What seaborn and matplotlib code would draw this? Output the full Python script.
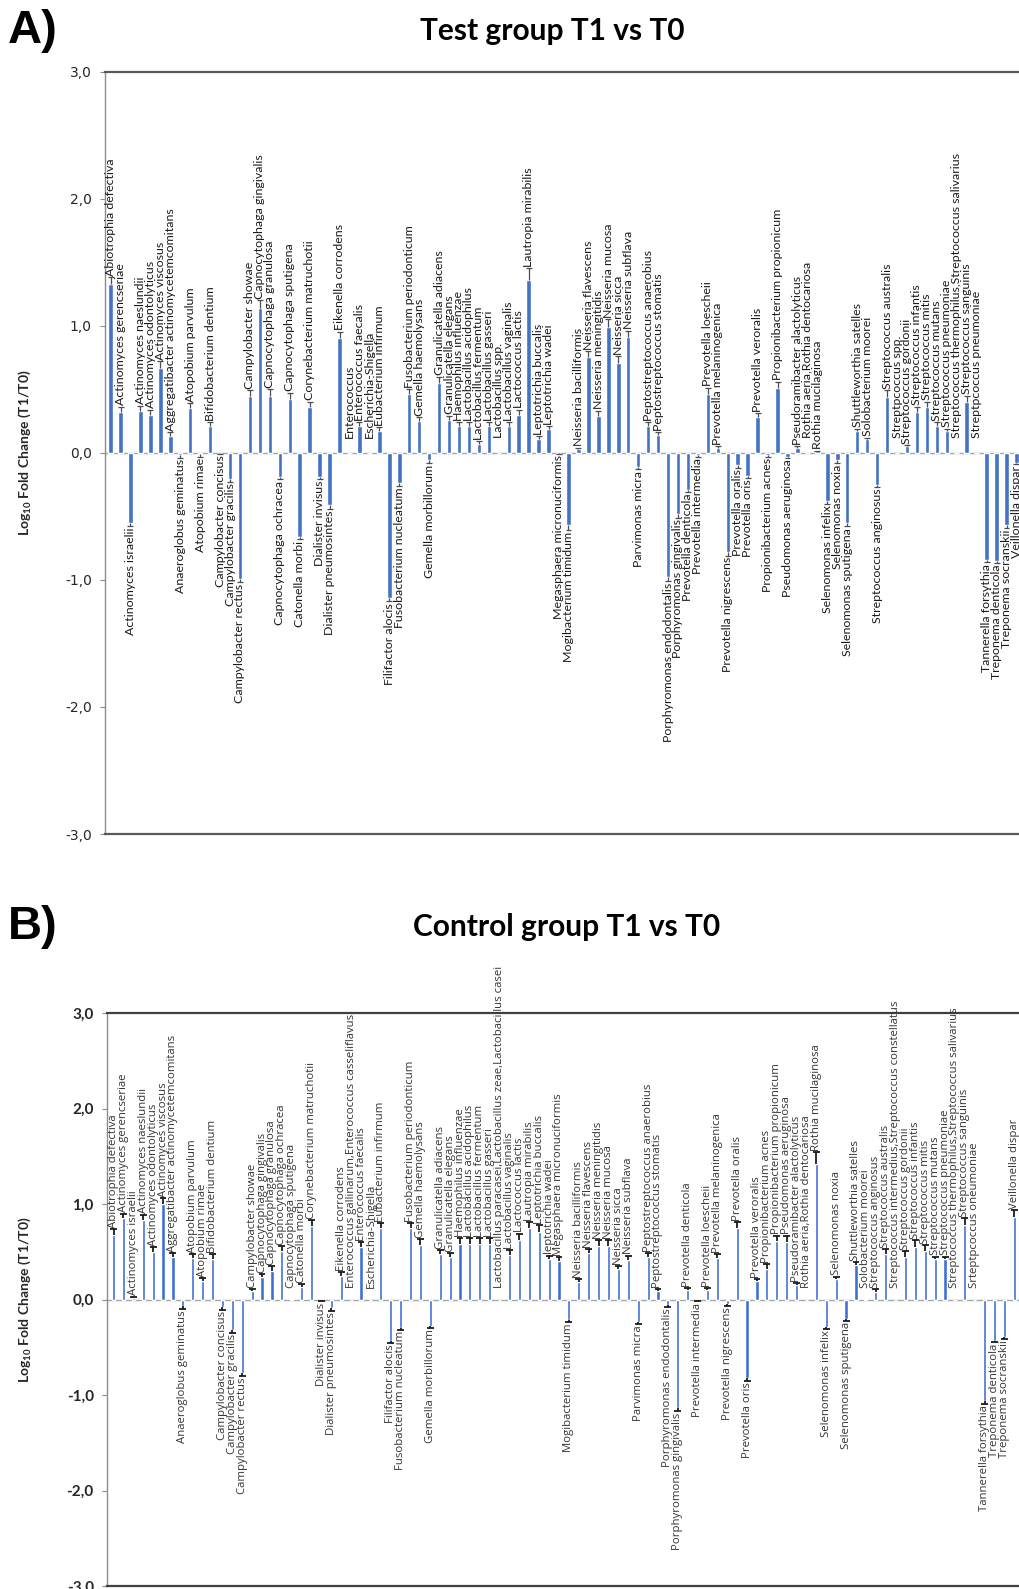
import numpy as np
import pandas as pd
import matplotlib
matplotlib.use("Agg")
import matplotlib.pyplot as plt
from matplotlib import font_manager
import seaborn as sns

# ---------------------------------------------------------------- data
names_a = [
    "Abiotrophia defectiva", "Actinomyces gerencseriae", "Actinomyces israelii",
    "Actinomyces naeslundii", "Actinomyces odontolyticus", "Actinomyces viscosus",
    "Aggregatibacter actinomycetemcomitans", "Anaeroglobus geminatus",
    "Atopobium parvulum", "Atopobium rimae", "Bifidobacterium dentium",
    "Campylobacter concisus", "Campylobacter gracilis", "Campylobacter rectus",
    "Campylobacter showae", "Capnocytophaga gingivalis", "Capnocytophaga granulosa",
    "Capnocytophaga ochracea", "Capnocytophaga sputigena", "Catonella morbi",
    "Corynebacterium matruchotii", "Dialister invisus", "Dialister pneumosintes",
    "Eikenella corrodens", "Enterococcus", "Enterococcus faecalis",
    "Escherichia-Shigella", "Eubacterium infirmum", "Filifactor alocis",
    "Fusobacterium nucleatum", "Fusobacterium periodonticum", "Gemella haemolysans",
    "Gemella morbillorum", "Granulicatella adiacens", "Granulicatella elegans",
    "Haemophilus influenzae", "Lactobacillus acidophilus", "Lactobacillus fermentum",
    "Lactobacillus gasseri", "Lactobacillus spp.", "Lactobacillus vaginalis",
    "Lactococcus lactis", "Lautropia mirabilis", "Leptotrichia buccalis",
    "Leptotrichia wadei", "Megasphaera micronuciformis", "Mogibacterium timidum",
    "Neisseria bacilliformis", "Neisseria flavescens", "Neisseria meningitidis",
    "Neisseria mucosa", "Neisseria sicca", "Neisseria subflava", "Parvimonas micra",
    "Peptostreptococcus anaerobius", "Peptostreptococcus stomatis",
    "Porphyromonas endodontalis", "Porphyromonas gingivalis", "Prevotella denticola",
    "Prevotella intermedia", "Prevotella loescheii", "Prevotella melaninogenica",
    "Prevotella nigrescens", "Prevotella oralis", "Prevotella oris",
    "Prevotella veroralis", "Propionibacterium acnes", "Propionibacterium propionicum",
    "Pseudomonas aeruginosa", "Pseudoramibacter alactolyticus",
    "Rothia aeria,Rothia dentocariosa", "Rothia mucilaginosa", "Selenomonas infelix",
    "Selenomonas noxia", "Selenomonas sputigena", "Shuttleworthia satelles",
    "Solobacterium moorei", "Streptococcus anginosus", "Streptococcus australis",
    "Streptpcoccus spp.", "Streptococcus gordonii", "Streptococcus infantis",
    "Streptococcus mitis", "Streptococcus mutans", "Streptococcus pneumoniae",
    "Streptococcus thermophilus,Streptococcus salivarius", "Streptococcus sanguinis",
    "Streptpcoccus pneumoniae", "Tannerella forsythia", "Treponema denticola",
    "Treponema socranskii", "Veillonella dispar",
]
log_fc_a = [
    1.33, 0.32, -0.55, 0.33, 0.30, 0.67, 0.13, -0.02, 0.35, -0.01, 0.21,
    -0.003, -0.21, -0.99, 0.45, 1.14, 0.45, -0.19, 0.42, -0.66, 0.36, -0.19, -0.41,
    0.90, 0.0, 0.21, 0.0, 0.17, -1.14, -0.24, 0.46, 0.25, -0.06, 0.55, 0.26,
    0.21, 0.21, 0.07, 0.21, 0.0, 0.21, 0.30, 1.36, 0.11, 0.19, -0.003, -0.57,
    0.03, 0.75, 0.29, 0.99, 0.71, 0.91, -0.11, 0.21, 0.14, -0.98, -0.48, -0.29,
    -0.02, 0.46, 0.04, -0.78, -0.10, -0.18, 0.28, -0.02, 0.51, -0.03, 0.04,
    0.0, 0.01, -0.38, -0.06, -0.55, 0.17, 0.11, -0.25, 0.44, 0.0, 0.05, 0.32,
    0.36, 0.21, 0.17, 0.0, 0.40, 0.0, -0.84, -0.85, -0.57, -0.08,
]
err_a = [
    0.05, 0.04, 0.03, 0.04, 0.04, 0.05, 0.03, 0.02, 0.04, 0.02, 0.03,
    0.003, 0.02, 0.03, 0.04, 0.06, 0.05, 0.02, 0.05, 0.02, 0.04, 0.02, 0.03,
    0.05, 0.0, 0.03, 0.0, 0.03, 0.03, 0.02, 0.04, 0.03, 0.02, 0.05, 0.03,
    0.03, 0.03, 0.02, 0.03, 0.0, 0.03, 0.04, 0.09, 0.02, 0.02, 0.003, 0.04,
    0.01, 0.05, 0.04, 0.06, 0.05, 0.05, 0.02, 0.03, 0.02, 0.03, 0.03, 0.02,
    0.01, 0.05, 0.01, 0.03, 0.02, 0.02, 0.03, 0.01, 0.05, 0.01, 0.01,
    0.0, 0.005, 0.02, 0.02, 0.03, 0.02, 0.01, 0.02, 0.05, 0.0, 0.01, 0.04,
    0.04, 0.03, 0.02, 0.0, 0.05, 0.0, 0.02, 0.02, 0.02, 0.01,
]

names_b = [
    "Abiotrophia defectiva", "Actinomyces gerencseriae", "Actinomyces israelii",
    "Actinomyces naeslundii", "Actinomyces odontolyticus", "Actinomyces viscosus",
    "Aggregatibacter actinomycetemcomitans", "Anaeroglobus geminatus",
    "Atopobium parvulum", "Atopobium rimae", "Bifidobacterium dentium",
    "Campylobacter concisus", "Campylobacter gracilis", "Campylobacter rectus",
    "Campylobacter showae", "Capnocytophaga gingivalis", "Capnocytophaga granulosa",
    "Capnocytophaga ochracea", "Capnocytophaga sputigena", "Catonella morbi",
    "Corynebacterium matruchotii", "Dialister invisus", "Dialister pneumosintes",
    "Eikenella corrodens", "Enterococcus gallinarum,Enterococcus casseliflavus",
    "Enterococcus faecalis", "Escherichia-Shigella", "Eubacterium infirmum",
    "Filifactor alocis", "Fusobacterium nucleatum", "Fusobacterium periodonticum",
    "Gemella haemolysans", "Gemella morbillorum", "Granulicatella adiacens",
    "Granulicatella elegans", "Haemophilus influenzae", "Lactobacillus acidophilus",
    "Lactobacillus fermentum", "Lactobacillus gasseri",
    "Lactobacillus paracasei,Lactobacillus zeae,Lactobacillus casei",
    "Lactobacillus vaginalis", "Lactococcus lactis", "Lautropia mirabilis",
    "Leptotrichia buccalis", "leptotrichia wadei", "Megasphaera micronuciformis",
    "Mogibacterium timidum", "Neisseria bacilliformis", "Neisseria flavescens",
    "Neisseria meningitidis", "Neisseria mucosa", "Neisseria sicca",
    "Neisseria subflava", "Parvimonas micra", "Peptostreptococcus anaerobius",
    "Peptostreptococcus stomatis", "Porphyromonas endodontalis",
    "Porphyromonas gingivalis", "Prevotella denticola", "Prevotella intermedia",
    "Prevotella loescheii", "Prevotella melaninogenica", "Prevotella nigrescens",
    "Prevotella oralis", "Prevotella oris", "Prevotella veroralis",
    "Propionibacterium acnes", "Propionibacterium propionicum",
    "Pseudomonas aeruginosa", "Pseudoramibacter alactolyticus",
    "Rothia aeria,Rothia dentocariosa", "Rothia mucilaginosa", "Selenomonas infelix",
    "Selenomonas noxia", "Selenomonas sputigena", "Shuttleworthia satelles",
    "Solobacterium moorei", "Streptococcus anginosus", "Streptococcus australis",
    "Streptococcus intermedius,Streptococcus constellatus", "Streptococcus gordonii",
    "Streptococcus infantis", "Streptococcus mitis", "Streptococcus mutans",
    "Streptococcus pneumoniae", "Streptococcus thermophilus,Streptococcus salivarius",
    "Streptococcus sanguinis", "Srteptpcoccus oneumoniae", "Tannerella forsythia",
    "Treponema denticola", "Treponema socranskii", "Veillonella dispar",
]
log_fc_b = [
    0.68, 0.85, 0.02, 0.83, 0.50, 1.00, 0.44, -0.07, 0.43, 0.19, 0.42,
    -0.08, -0.32, -0.77, 0.09, 0.24, 0.30, 0.51, 0.003, 0.13, 0.77, -0.01, -0.09,
    0.25, 0.0, 0.55, 0.0, 0.75, -0.43, -0.30, 0.75, 0.57, -0.28, 0.48, 0.45,
    0.58, 0.58, 0.58, 0.58, 0.0, 0.47, 0.62, 0.75, 0.71, 0.42, 0.40, -0.21,
    0.18, 0.49, 0.56, 0.56, 0.32, 0.41, -0.24, 0.44, 0.09, -0.06, -1.14, 0.10,
    -0.01, 0.10, 0.43, -0.05, 0.75, -0.82, 0.19, 0.32, 0.61, 0.60, 0.15,
    0.0, 1.42, -0.29, 0.21, -0.20, 0.36, 0.003, 0.08, 0.48, 0.0, 0.45, 0.55,
    0.51, 0.42, 0.42, 0.0, 0.78, 0.0, -1.06, -0.43, -0.39, 0.86,
]
err_b = [
    0.06, 0.05, 0.01, 0.06, 0.05, 0.06, 0.05, 0.03, 0.05, 0.03, 0.06,
    0.03, 0.03, 0.03, 0.02, 0.03, 0.05, 0.05, 0.0, 0.03, 0.06, 0.01, 0.03,
    0.04, 0.0, 0.05, 0.0, 0.05, 0.03, 0.02, 0.05, 0.06, 0.02, 0.04, 0.04,
    0.06, 0.06, 0.06, 0.06, 0.0, 0.05, 0.07, 0.06, 0.07, 0.04, 0.04, 0.03,
    0.03, 0.04, 0.06, 0.06, 0.03, 0.05, 0.02, 0.05, 0.02, 0.02, 0.03, 0.02,
    0.01, 0.02, 0.05, 0.02, 0.06, 0.03, 0.02, 0.05, 0.06, 0.07, 0.02,
    0.0, 0.12, 0.02, 0.03, 0.02, 0.03, 0.0, 0.03, 0.05, 0.0, 0.06, 0.07,
    0.06, 0.03, 0.03, 0.0, 0.07, 0.0, 0.03, 0.02, 0.02, 0.08,
]

y_ticks = [3.0, 2.0, 1.0, 0.0, -1.0, -2.0, -3.0]
y_tick_labels = ["3,0", "2,0", "1,0", "0,0", "-1,0", "-2,0", "-3,0"]
title_a = "Test group T1 vs T0"
title_b = "Control group T1 vs T0"
y_label = r"Log$_{\mathbf{10}}$ Fold Change (T1/T0)"

# ---------------------------------------------------------------- fonts
sns.set_theme(style="white")
installed = {f.name for f in font_manager.fontManager.ttflist}


def pick(*families):
    for fam in families:
        if fam in installed:
            return fam
    return "DejaVu Sans"


calibri_like = pick("Lato", "Carlito", "Liberation Sans")
label_b_font = pick("Open Sans", "Noto Sans", "DejaVu Sans")
arial_like = pick("Liberation Sans", "DejaVu Sans")
plt.rcParams["font.family"] = [calibri_like, "DejaVu Sans"]
plt.rcParams["mathtext.fontset"] = "custom"
plt.rcParams["mathtext.rm"] = calibri_like
plt.rcParams["mathtext.bf"] = f"{calibri_like}:bold"

W, H = 1019, 1589
fig = plt.figure(figsize=(W / 100, H / 100), dpi=100)
fig.patch.set_facecolor("white")


def axes_px(left, top, right, bottom):
    return fig.add_axes([left / W, 1 - bottom / H, (right - left) / W, (bottom - top) / H])


def draw_panel(ax, names, vals, errs, *, bar_color, bar_width, err_color, err_lw,
               cap_half, label_font, label_size, label_color, xlim,
               tick_font, tick_size, tick_weight, frame_color, left_color):
    df = pd.DataFrame({"taxon": names, "lfc": vals})
    sns.barplot(data=df, x="taxon", y="lfc", order=names, color=bar_color,
                saturation=1, width=bar_width, errorbar=None, ax=ax, zorder=3)

    x = np.arange(len(names))
    v = np.asarray(vals, dtype=float)
    e = np.asarray(errs, dtype=float)
    sign = np.where(v < 0, -1.0, 1.0)
    tips = v + sign * e

    # one-sided error bars with a cap at the outer end only
    has_err = e > 0
    ax.vlines(x[has_err], v[has_err], tips[has_err], color=err_color,
              lw=err_lw, zorder=4)
    ax.hlines(tips[has_err], x[has_err] - cap_half, x[has_err] + cap_half,
              color=err_color, lw=err_lw, zorder=4)

    # rotated data labels just beyond each bar end
    for xi, name, vi, ei, ti in zip(x, names, v, e, tips):
        if ei == 0:
            ax.text(xi, 0.12, name, rotation=90, ha="center", va="bottom",
                    fontsize=label_size, family=label_font, color=label_color)
        elif vi >= 0:
            ax.text(xi, ti + 0.012, name, rotation=90, ha="center", va="bottom",
                    fontsize=label_size, family=label_font, color=label_color)
        else:
            ax.text(xi, ti - 0.012, name, rotation=90, ha="center", va="top",
                    fontsize=label_size, family=label_font, color=label_color)

    ax.axhline(0, color="#a6a6a6", lw=1.0, zorder=2)
    ax.set_xlim(*xlim)
    ax.set_ylim(-3, 3)
    ax.set_xticks([])
    ax.set_yticks(y_ticks)
    ax.set_yticklabels(y_tick_labels, family=tick_font, fontsize=tick_size,
                       fontweight=tick_weight, color="#262626")
    ax.tick_params(axis="y", left=True, length=3.5, width=0.8, color="#8c8c8c", pad=6)
    ax.set_xlabel("")
    ax.set_ylabel("")
    ax.grid(False)
    ax.set_facecolor("white")
    ax.spines["right"].set_visible(False)
    for side in ("top", "bottom"):
        ax.spines[side].set_color(frame_color)
        ax.spines[side].set_linewidth(1.6)
    ax.spines["left"].set_color(left_color)
    ax.spines["left"].set_linewidth(1.0)


# ---------------------------------------------------------------- panel A
ax_a = axes_px(105, 71.5, 1030, 834)
draw_panel(ax_a, names_a, log_fc_a, err_a,
           bar_color="#4472C4", bar_width=0.45, err_color="#4d4d4d", err_lw=0.9,
           cap_half=0.3, label_font=calibri_like, label_size=8.9, label_color="#1a1a1a",
           xlim=(-0.56, 92.36), tick_font="DejaVu Sans", tick_size=10,
           tick_weight="normal", frame_color="#595959", left_color="#8c8c8c")

# ---------------------------------------------------------------- panel B
ax_b = axes_px(107, 1013, 1030, 1586)
draw_panel(ax_b, names_b, log_fc_b, err_b,
           bar_color="#3D6FD6", bar_width=0.32, err_color="#1a1a1a", err_lw=1.3,
           cap_half=0.35, label_font=label_b_font, label_size=8.2, label_color="#333333",
           xlim=(-0.66, 92.58), tick_font=calibri_like, tick_size=11,
           tick_weight="bold", frame_color="#404040", left_color="#8c8c8c")

# ---------------------------------------------------------------- headings
fig.text(8 / W, 1 - 31 / H, "A)", family=arial_like, fontweight="bold",
         fontsize=34, ha="left", va="center", color="black")
fig.text(552 / W, 1 - 31 / H, title_a, fontweight="bold", fontsize=21.5,
         ha="center", va="center", color="black")
fig.text(8 / W, 1 - 927 / H, "B)", family=arial_like, fontweight="bold",
         fontsize=34, ha="left", va="center", color="black")
fig.text(567 / W, 1 - 927 / H, title_b, fontweight="bold", fontsize=21.5,
         ha="center", va="center", color="black")

fig.text(25 / W, 1 - 453 / H, y_label, rotation=90, fontweight="bold",
         fontsize=10, ha="center", va="center", color="#262626")
fig.text(25 / W, 1 - 1300 / H, y_label, rotation=90, fontweight="bold",
         fontsize=10, ha="center", va="center", color="#262626")

fig.savefig("out.png", dpi=100, facecolor="white")
